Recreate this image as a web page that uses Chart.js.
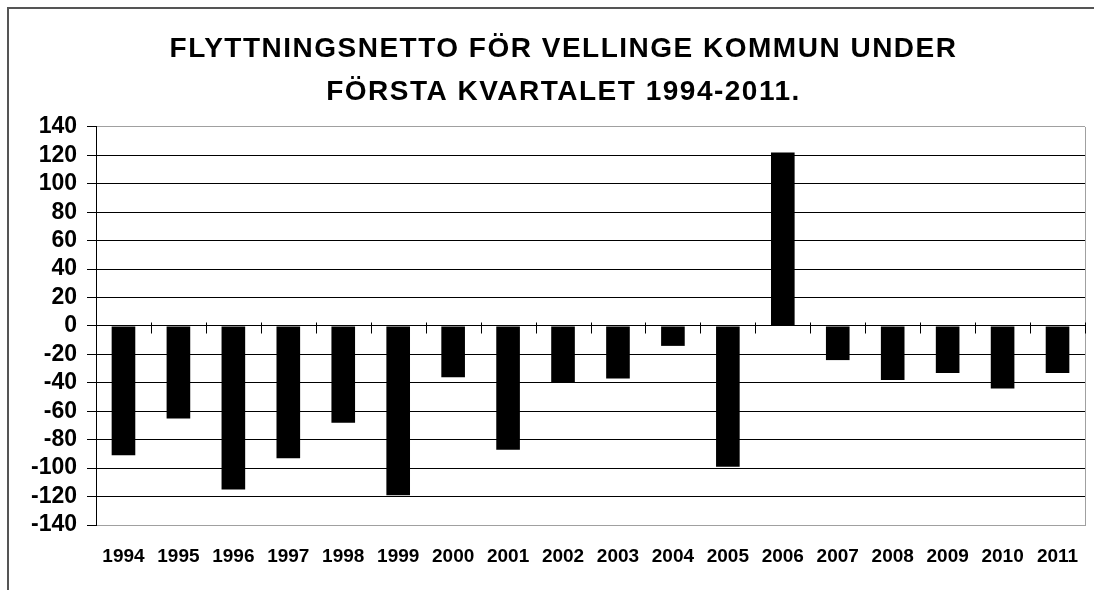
<!DOCTYPE html>
<html>
<head>
<meta charset="utf-8">
<script src="https://cdn.jsdelivr.net/npm/chart.js@4.4.1/dist/chart.umd.min.js"></script>
<style>
  html, body { margin: 0; padding: 0; background: #fff; overflow: hidden; }
  #wrap { position: relative; width: 1094px; height: 590px; overflow: hidden; }
  #frame {
    position: absolute; left: 7px; top: 7px; width: 1200px; height: 700px;
    border: 2px solid #555; box-sizing: border-box;
  }
  canvas { position: absolute; left: 0; top: 0; }
</style>
</head>
<body>
<div id="wrap">
  <div id="frame"></div>
  <canvas id="chart" width="1094" height="590"></canvas>
</div>
<script>
// Chart data
const titleLines = ['FLYTTNINGSNETTO FÖR VELLINGE KOMMUN UNDER', 'FÖRSTA KVARTALET 1994-2011.'];
const years = ['1994', '1995', '1996', '1997', '1998', '1999', '2000', '2001', '2002',
  '2003', '2004', '2005', '2006', '2007', '2008', '2009', '2010', '2011'];
const netMigration = [-91, -65, -115, -93, -68, -119, -36, -87, -40,
  -37, -14, -99, 122, -24, -38, -33, -44, -33];
const yMin = -140;
const yMax = 140;
const yStep = 20;

const fontFamily = '"Liberation Sans", Arial, sans-serif';

// Plot frame on the right side plus the small ticks on the zero line
const framePlugin = {
  id: 'frameAndZeroTicks',
  afterDatasetsDraw(chart) {
    const { ctx, chartArea, scales } = chart;
    const zeroY = Math.round(scales.y.getPixelForValue(0)) + 0.5;
    ctx.save();
    ctx.strokeStyle = '#a0a0a0';
    ctx.lineWidth = 1;
    ctx.beginPath();
    ctx.moveTo(Math.round(chartArea.right) + 0.5, chartArea.top);
    ctx.lineTo(Math.round(chartArea.right) + 0.5, chartArea.bottom);
    ctx.stroke();

    ctx.strokeStyle = '#000';
    ctx.beginPath();
    for (let i = 1; i <= years.length; i++) {
      const x = Math.round(scales.x.getPixelForValue(i - 0.5)) + 0.5;
      ctx.moveTo(x, zeroY - 4);
      ctx.lineTo(x, zeroY + 7);
    }
    ctx.stroke();
    ctx.restore();
  }
};

const ctx = document.getElementById('chart');
const chart = new Chart(ctx, {
  type: 'bar',
  data: {
    labels: years,
    datasets: [{
      data: netMigration,
      backgroundColor: '#000',
      borderWidth: 0,
      categoryPercentage: 1,
      barPercentage: 0.43
    }]
  },
  options: {
    responsive: false,
    animation: false,
    layout: { padding: { left: 0, right: 9, top: 0, bottom: 0 } },
    plugins: {
      legend: { display: false },
      tooltip: { enabled: false },
      title: {
        display: true,
        text: titleLines,
        color: '#000',
        font: { family: fontFamily, size: 28, weight: 'bold', lineHeight: 1.535 },
        padding: { top: 26, bottom: 15 }
      }
    },
    scales: {
      x: {
        grid: { display: false, drawTicks: false },
        border: { display: true, color: '#a0a0a0', width: 1 },
        ticks: {
          color: '#000',
          padding: 20,
          maxRotation: 0,
          autoSkip: false,
          font: { family: fontFamily, size: 19, weight: 'bold' }
        },
        afterFit(scale) {
          scale.height = 65;
          scale.paddingLeft = 0;
          scale.paddingRight = 0;
        }
      },
      y: {
        min: yMin,
        max: yMax,
        grid: {
          color: (c) => (c.tick && Math.abs(c.tick.value) === yMax) ? '#a0a0a0' : '#000',
          tickColor: '#000',
          lineWidth: 1,
          drawTicks: true,
          tickLength: 9
        },
        border: { display: true, color: '#000', width: 1 },
        ticks: {
          stepSize: yStep,
          autoSkip: false,
          color: '#000',
          padding: 10,
          font: { family: fontFamily, size: 23, weight: 'bold' }
        },
        afterFit(scale) { scale.width = 96; }
      }
    }
  },
  plugins: [framePlugin]
});

// The title in the picture is set a bit wider and right of centre
const titleBox = chart.titleBlock;
const drawTitle = titleBox.draw.bind(titleBox);
titleBox.draw = function () {
  const c = chart.ctx;
  c.save();
  c.letterSpacing = '1.5px';
  c.translate(21, 2);
  drawTitle();
  c.restore();
};
chart.draw();
</script>
</body>
</html>
